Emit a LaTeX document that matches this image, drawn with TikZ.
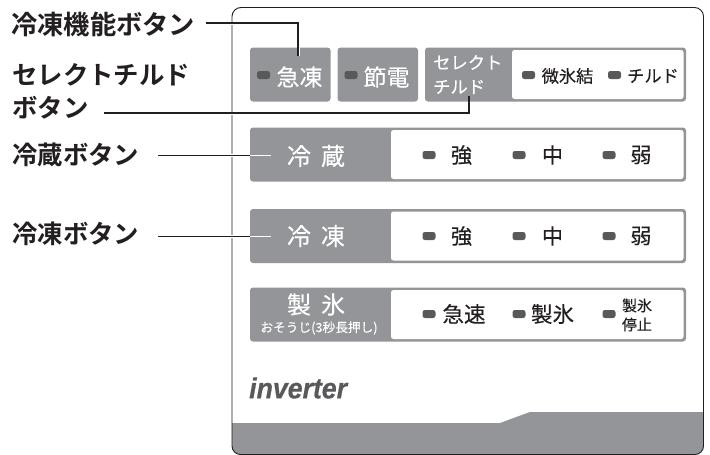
\documentclass[tikz,border=0pt]{standalone}
\usepackage{fontspec}
\usepackage{graphicx}
\setmainfont[FakeBold=0.25]{Noto Sans CJK JP}
\newfontfamily\labfont{Noto Sans CJK JP Bold}
\newfontfamily\logofont[FakeBold=0.5]{Liberation Sans Bold Italic}
\definecolor{pgray}{HTML}{939598}
\definecolor{ledc}{HTML}{58595B}
\definecolor{inkc}{HTML}{231F20}
\tikzset{
 x=1pt,y=-1pt,
 graybtn/.style={fill=pgray,rounded corners=3pt,draw=none},
 whitepart/.style={fill=white,rounded corners=2.5pt,draw=none},
 led/.style={fill=ledc,draw=none,rounded corners=2.4pt},
 lbl/.style={font=\labfont\fontsize{25.4}{28}\selectfont,text=inkc,anchor=west,inner sep=0pt},
 wtxt/.style={text=white,inner sep=0pt},
 btxt/.style={text=inkc,inner sep=0pt},
 leader/.style={draw=inkc,line width=1.1pt},
 leaderw/.style={draw=white,line width=1.1pt},
 halo/.style={draw=white,line width=3pt},
}
\newcommand{\ledat}[2]{\path[led] (#1-6.5,#2-4) rectangle (#1+6.5,#2+4);}
\begin{document}
\begin{tikzpicture}
\useasboundingbox (0,0) rectangle (710,455);
\fill[white] (0,0) rectangle (710,455);
% bottom band and panel
\fill[pgray] (232,423) -- (500,423) -- (530,412) -- (703.5,412) -- (703.5,446) arc[start angle=0,end angle=-90,radius=8.5pt] -- (240.5,454.5) arc[start angle=-90,end angle=-180,radius=8.5pt] -- cycle;
\draw[draw=inkc,line width=0.9pt] (232,446) -- (232,16.5) arc[start angle=180,end angle=90,radius=9pt] -- (694.5,7.5) arc[start angle=90,end angle=0,radius=9pt] -- (703.5,446) arc[start angle=0,end angle=-90,radius=8.5pt] -- (240.5,454.5) arc[start angle=-90,end angle=-180,radius=8.5pt] -- cycle;
% row 1
\path[graybtn] (250,47.5) rectangle (330.5,101.5);
\path[graybtn] (337.5,47.5) rectangle (418,101.5);
\path[graybtn] (425,47.5) rectangle (686,101.5);
\path[whitepart] (512,50) rectangle (683.5,99);
% rows 2-4
\path[graybtn] (250,127.5) rectangle (686,181.5);
\path[whitepart] (391,130) rectangle (683.5,179);
\path[graybtn] (250,209) rectangle (686,263);
\path[whitepart] (391,211.5) rectangle (683.5,260.5);
\path[graybtn] (250,287.5) rectangle (686,341.5);
\path[whitepart] (391,290) rectangle (683.5,339);
% LEDs
\ledat{263.5}{75}\ledat{351}{75}\ledat{528.5}{75}\ledat{614.5}{75}
\ledat{429}{155}\ledat{519}{155}\ledat{609}{155}
\ledat{429}{236}\ledat{519}{236}\ledat{609}{236}
\ledat{429}{314}\ledat{519}{314}\ledat{609}{314}
% button texts
\node[wtxt,font=\fontsize{23}{26}\selectfont] (kyuto) at (299.5,77) {急凍};
\node[wtxt,font=\fontsize{23}{26}\selectfont] (setsuden) at (386.5,77) {節電};
\node[wtxt,font=\fontsize{17.3}{18}\selectfont,anchor=west] (sel1) at (433,62.5) {セレクト};
\node[wtxt,font=\fontsize{17.3}{18}\selectfont,anchor=west] (sel2) at (433,87) {チルド};
\node[btxt,font=\fontsize{17.2}{20}\selectfont] (bihyo) at (567.5,76) {微氷結};
\node[btxt,font=\fontsize{17.2}{20}\selectfont] (chilled) at (653,76) {チルド};
\node[wtxt,font=\fontsize{24}{26}\selectfont] (reizo) at (316,156) {冷\hspace{10pt}蔵};
\node[btxt,font=\fontsize{21}{24}\selectfont] (r1) at (461.5,155) {強};
\node[btxt,font=\fontsize{21}{24}\selectfont] (r2) at (552.5,155) {中};
\node[btxt,font=\fontsize{21}{24}\selectfont] (r3) at (641,155) {弱};
\node[wtxt,font=\fontsize{24}{26}\selectfont] (reito) at (316,236) {冷\hspace{10pt}凍};
\node[btxt,font=\fontsize{21}{24}\selectfont] (f1) at (461.5,236) {強};
\node[btxt,font=\fontsize{21}{24}\selectfont] (f2) at (552.5,236) {中};
\node[btxt,font=\fontsize{21}{24}\selectfont] (f3) at (641,236) {弱};
\node[wtxt,font=\fontsize{24}{26}\selectfont] (seihyo) at (316,304.5) {製\hspace{10pt}氷};
\node[wtxt,font=\fontsize{12.7}{14}\selectfont] (osoji) at (319,328) {おそうじ(3秒長押し)};
\node[btxt,font=\fontsize{21.5}{24}\selectfont] (i1) at (464,314) {急速};
\node[btxt,font=\fontsize{21.5}{24}\selectfont] (i2) at (552.5,314) {製氷};
\node[btxt,font=\fontsize{15}{19}\selectfont,align=center] (i3) at (637,315) {製氷\\停止};
% logo
\node[inner sep=0pt,anchor=west,text=ledc] (logo) at (249,388) {\scalebox{0.92}[1]{\logofont\fontsize{29}{32}\selectfont inverter}};
% labels
\node[lbl,font=\labfont\fontsize{26.3}{28}\selectfont] (lab1) at (11,24) {冷凍機能ボタン};
\node[lbl] (lab2a) at (12,75) {セレクトチルド};
\node[lbl] (lab2b) at (12,108) {ボタン};
\node[lbl] (lab3) at (12,155) {冷蔵ボタン};
\node[lbl] (lab4) at (12,234) {冷凍ボタン};
% leader ends
\coordinate (a1) at (206,23);
\coordinate (a2) at (298,56);
\coordinate (b1) at (104,113);
\coordinate (b2) at (469,96);
\coordinate (c1) at (158,155.5);
\coordinate (c2) at (250,155.5);
\coordinate (c3) at (271,155.5);
\coordinate (d1) at (158,236.5);
\coordinate (d2) at (250,236.5);
\coordinate (d3) at (271,236.5);
\coordinate (h1) at (228,113);
\coordinate (h2) at (236,113);
\coordinate (h3) at (228,155.5);
\coordinate (h4) at (236,155.5);
\coordinate (h5) at (228,236.5);
\coordinate (h6) at (236,236.5);
\coordinate (h7) at (228,23);
\coordinate (h8) at (236,23);
\coordinate (h9) at (298,46);
\coordinate (h10) at (298,56);
% halos at panel crossing
\draw[halo] (h1) -- (h2);
\draw[halo] (h3) -- (h4);
\draw[halo] (h5) -- (h6);
\draw[halo] (h7) -- (h8);
\draw[halo] (h9) -- (h10);
% leaders
\draw[leader] (a1) -| (a2);
\draw[leader] (b1) -| (b2);
\draw[leader] (c1) -- (c2);
\draw[leaderw] (c2) -- (c3);
\draw[leader] (d1) -- (d2);
\draw[leaderw] (d2) -- (d3);
\end{tikzpicture}
\end{document}
